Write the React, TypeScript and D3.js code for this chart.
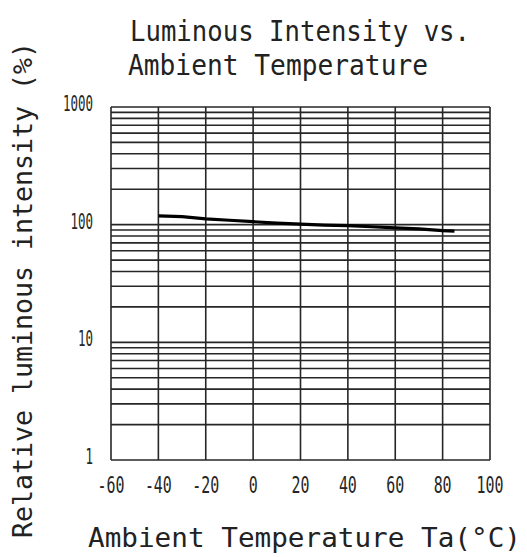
import React, { useEffect, useRef } from 'react';
import * as d3 from 'd3';

// temperature (°C) vs relative luminous intensity (%)
const temps = [-40, -30, -20, -10, 0, 10, 20, 30, 40, 50, 60, 70, 80, 85];
const intensity = [119, 117, 112, 109, 106, 103, 101, 99, 98, 96, 94, 92, 89, 88];

const xTicks = [-60, -40, -20, 0, 20, 40, 60, 80, 100];
const yTicks = [1, 10, 100, 1000];
const yGrid = d3.range(0, 3).flatMap(e => d3.range(1, 10).map(m => m * Math.pow(10, e))).concat([1000]);

const titleLines = ['Luminous Intensity vs.', 'Ambient Temperature'];
const xLabel = 'Ambient Temperature Ta(\u00B0C)';
const yLabel = 'Relative luminous intensity (%)';

const App: React.FC = () => {
  const svgRef = useRef<SVGSVGElement>(null);

  useEffect(() => {
    if (!svgRef.current) return;

    const width = 527;
    const height = 557;
    const m = { left: 111, right: 490, top: 107, bottom: 460 };
    const ink = '#262626';
    const font = '"DejaVu Sans Mono", monospace';

    const svg = d3.select(svgRef.current);
    svg.selectAll('*').remove();
    svg.attr('width', width).attr('height', height);

    svg.append('rect').attr('width', width).attr('height', height).attr('fill', '#fff');

    const x = d3.scaleLinear().domain([-60, 100]).range([m.left, m.right]);
    const y = d3.scaleLog().domain([1, 1000]).range([m.bottom, m.top]);

    /* grid */
    const grid = svg.append('g').attr('stroke', ink).attr('stroke-width', 1.6);

    grid.selectAll('line.h')
      .data(yGrid)
      .join('line')
      .attr('class', 'h')
      .attr('x1', m.left)
      .attr('x2', m.right)
      .attr('y1', d => y(d))
      .attr('y2', d => y(d));

    grid.selectAll('line.v')
      .data(xTicks)
      .join('line')
      .attr('class', 'v')
      .attr('x1', d => x(d))
      .attr('x2', d => x(d))
      .attr('y1', m.top)
      .attr('y2', m.bottom);

    /* data line */
    const line = d3.line<number>()
      .x((_, i) => x(temps[i]))
      .y(d => y(d));

    svg.append('path')
      .datum(intensity)
      .attr('d', line)
      .attr('fill', 'none')
      .attr('stroke', '#000')
      .attr('stroke-width', 3.2);

    /* tick labels */
    svg.append('g')
      .selectAll('text')
      .data(xTicks)
      .join('text')
      .attr('x', d => x(d))
      .attr('y', 493)
      .attr('text-anchor', 'middle')
      .attr('textLength', d => String(d).length * 9)
      .attr('lengthAdjust', 'spacingAndGlyphs')
      .style('font-family', font)
      .style('font-size', '23px')
      .style('fill', ink)
      .text(d => String(d));

    svg.append('g')
      .selectAll('text')
      .data(yTicks)
      .join('text')
      .attr('x', 93)
      .attr('y', d => y(d) + 4)
      .attr('text-anchor', 'end')
      .attr('textLength', d => String(d).length * 7.5)
      .attr('lengthAdjust', 'spacingAndGlyphs')
      .style('font-family', font)
      .style('font-size', '21px')
      .style('fill', ink)
      .text(d => String(d));

    /* titles */
    const title = svg.append('g')
      .style('font-family', font)
      .style('font-size', '29px')
      .style('fill', '#222');

    title.append('text')
      .attr('x', 130).attr('y', 41)
      .attr('textLength', 340)
      .attr('lengthAdjust', 'spacingAndGlyphs')
      .text(titleLines[0]);

    title.append('text')
      .attr('x', 128).attr('y', 75)
      .attr('textLength', 300)
      .attr('lengthAdjust', 'spacingAndGlyphs')
      .text(titleLines[1]);

    svg.append('text')
      .attr('x', 88).attr('y', 547)
      .attr('textLength', 433)
      .attr('lengthAdjust', 'spacingAndGlyphs')
      .style('font-family', font)
      .style('font-size', '26px')
      .style('fill', '#222')
      .text(xLabel);

    svg.append('text')
      .attr('transform', 'translate(32,290) rotate(-90)')
      .attr('text-anchor', 'middle')
      .attr('textLength', 496)
      .attr('lengthAdjust', 'spacingAndGlyphs')
      .style('font-family', font)
      .style('font-size', '27px')
      .style('fill', '#222')
      .text(yLabel);
  }, []);

  return (
    <svg
      ref={svgRef}
      style={{ position: 'absolute', left: 0, top: 0, display: 'block' }}
    />
  );
};

export default App;
